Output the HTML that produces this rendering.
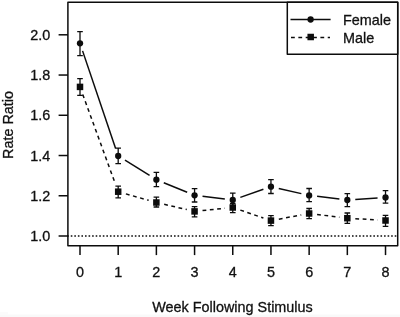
<!DOCTYPE html>
<html><head><meta charset="utf-8"><style>
html,body{margin:0;padding:0;background:#fff;}
body{width:400px;height:317px;overflow:hidden;position:relative;}
svg{position:absolute;left:0;top:0;display:block;will-change:transform;}
text{font-family:"Liberation Sans",sans-serif;font-size:14.4px;fill:#111;stroke:#111;stroke-width:0.3px;}
</style></head><body>
<svg width="400" height="317" viewBox="0 0 400 317">
<rect x="0" y="0" width="400" height="317" fill="#fff"/>
<rect x="0" y="314.5" width="400" height="2.5" fill="#f9f9f9"/><rect x="0" y="312" width="8" height="3" fill="#fbfbfb"/>
<g stroke="#0c0c0c" stroke-width="1.5" fill="none" stroke-linejoin="round">
<rect x="67.9" y="2.3" width="329.8" height="243.5"/>
<line x1="58.6" y1="236.00" x2="67.9" y2="236.00"/>
<line x1="58.6" y1="195.76" x2="67.9" y2="195.76"/>
<line x1="58.6" y1="155.52" x2="67.9" y2="155.52"/>
<line x1="58.6" y1="115.28" x2="67.9" y2="115.28"/>
<line x1="58.6" y1="75.04" x2="67.9" y2="75.04"/>
<line x1="58.6" y1="34.80" x2="67.9" y2="34.80"/>
<line x1="80.00" y1="245.8" x2="80.00" y2="255.1"/>
<line x1="118.19" y1="245.8" x2="118.19" y2="255.1"/>
<line x1="156.38" y1="245.8" x2="156.38" y2="255.1"/>
<line x1="194.57" y1="245.8" x2="194.57" y2="255.1"/>
<line x1="232.76" y1="245.8" x2="232.76" y2="255.1"/>
<line x1="270.95" y1="245.8" x2="270.95" y2="255.1"/>
<line x1="309.14" y1="245.8" x2="309.14" y2="255.1"/>
<line x1="347.33" y1="245.8" x2="347.33" y2="255.1"/>
<line x1="385.52" y1="245.8" x2="385.52" y2="255.1"/>
<line x1="67.2" y1="236" x2="397.7" y2="236" stroke-width="1.3" stroke-dasharray="1.6 1.96"/>
<g>
<line x1="82.57" y1="50.88" x2="115.62" y2="148.42"/>
<line x1="124.99" y1="160.22" x2="149.58" y2="175.48"/>
<line x1="163.79" y1="182.73" x2="187.16" y2="192.27"/>
<line x1="202.51" y1="196.28" x2="224.82" y2="199.02"/>
<line x1="240.31" y1="197.37" x2="263.40" y2="189.33"/>
<line x1="278.75" y1="188.48" x2="301.34" y2="193.62"/>
<line x1="317.08" y1="196.36" x2="339.39" y2="199.04"/>
<line x1="355.31" y1="199.46" x2="377.54" y2="197.94"/>
</g>
<g>
<line x1="82.74" y1="94.42" x2="115.45" y2="184.18" stroke-dasharray="3.8 3.55"/>
<line x1="125.89" y1="193.88" x2="148.68" y2="200.32" stroke-dasharray="3.8 3.55"/>
<line x1="164.17" y1="204.32" x2="186.78" y2="209.58" stroke-dasharray="3.8 3.55"/>
<line x1="202.53" y1="210.59" x2="224.80" y2="208.31" stroke-dasharray="3.8 3.55"/>
<line x1="240.33" y1="210.10" x2="263.38" y2="218.00" stroke-dasharray="3.8 3.55"/>
<line x1="278.82" y1="219.14" x2="301.27" y2="214.96" stroke-dasharray="3.8 3.55"/>
<line x1="317.08" y1="214.48" x2="339.39" y2="217.22" stroke-dasharray="3.8 3.55"/>
<line x1="355.32" y1="218.68" x2="377.53" y2="220.02" stroke-dasharray="3.8 3.55"/>
</g>
<g stroke-width="1.3">
<path d="M77.20 31.60H82.80M77.20 55.60H82.80M80.00 31.60V55.60"/>
<path d="M115.39 148.20H120.99M115.39 163.60H120.99M118.19 148.20V163.60"/>
<path d="M153.58 172.40H159.18M153.58 186.60H159.18M156.38 172.40V186.60"/>
<path d="M191.77 188.60H197.37M191.77 202.00H197.37M194.57 188.60V202.00"/>
<path d="M229.96 193.20H235.56M229.96 205.90H235.56M232.76 193.20V205.90"/>
<path d="M268.15 179.70H273.75M268.15 193.50H273.75M270.95 179.70V193.50"/>
<path d="M306.34 188.50H311.94M306.34 201.70H311.94M309.14 188.50V201.70"/>
<path d="M344.53 193.70H350.13M344.53 206.60H350.13M347.33 193.70V206.60"/>
<path d="M382.72 190.70H388.32M382.72 203.20H388.32M385.52 190.70V203.20"/>
<path d="M77.20 78.60H82.80M77.20 95.30H82.80M80.00 78.60V95.30"/>
<path d="M115.39 186.20H120.99M115.39 197.80H120.99M118.19 186.20V197.80"/>
<path d="M153.58 197.20H159.18M153.58 207.00H159.18M156.38 197.20V207.00"/>
<path d="M191.77 206.60H197.37M191.77 216.80H197.37M194.57 206.60V216.80"/>
<path d="M229.96 203.30H235.56M229.96 212.60H235.56M232.76 203.30V212.60"/>
<path d="M268.15 215.60H273.75M268.15 225.70H273.75M270.95 215.60V225.70"/>
<path d="M306.34 208.50H311.94M306.34 218.60H311.94M309.14 208.50V218.60"/>
<path d="M344.53 213.00H350.13M344.53 223.40H350.13M347.33 213.00V223.40"/>
<path d="M382.72 215.30H388.32M382.72 226.30H388.32M385.52 215.30V226.30"/>
</g>
<rect x="287.3" y="2.3" width="110.4" height="52.0" fill="#fff"/>
<line x1="290.5" y1="19.5" x2="330.6" y2="19.5"/>
<line x1="291" y1="37.5" x2="330" y2="37.5" stroke-dasharray="3.8 3.55"/>
</g>
<g fill="#0c0c0c">
<circle cx="80.00" cy="43.30" r="3.15"/>
<circle cx="118.19" cy="156.00" r="3.15"/>
<circle cx="156.38" cy="179.70" r="3.15"/>
<circle cx="194.57" cy="195.30" r="3.15"/>
<circle cx="232.76" cy="200.00" r="3.15"/>
<circle cx="270.95" cy="186.70" r="3.15"/>
<circle cx="309.14" cy="195.40" r="3.15"/>
<circle cx="347.33" cy="200.00" r="3.15"/>
<circle cx="385.52" cy="197.40" r="3.15"/>
<rect x="76.75" y="83.65" width="6.5" height="6.5"/>
<rect x="114.94" y="188.45" width="6.5" height="6.5"/>
<rect x="153.13" y="199.25" width="6.5" height="6.5"/>
<rect x="191.32" y="208.15" width="6.5" height="6.5"/>
<rect x="229.51" y="204.25" width="6.5" height="6.5"/>
<rect x="267.70" y="217.35" width="6.5" height="6.5"/>
<rect x="305.89" y="210.25" width="6.5" height="6.5"/>
<rect x="344.08" y="214.95" width="6.5" height="6.5"/>
<rect x="382.27" y="217.25" width="6.5" height="6.5"/>
<circle cx="310.6" cy="19.5" r="3.15"/>
<rect x="307.45" y="33.75" width="6.5" height="6.5"/>
</g>
<text x="50.3" y="241.10" text-anchor="end">1.0</text>
<text x="50.3" y="200.86" text-anchor="end">1.2</text>
<text x="50.3" y="160.62" text-anchor="end">1.4</text>
<text x="50.3" y="120.38" text-anchor="end">1.6</text>
<text x="50.3" y="80.14" text-anchor="end">1.8</text>
<text x="50.3" y="39.90" text-anchor="end">2.0</text>
<text x="80.00" y="277.3" text-anchor="middle">0</text>
<text x="118.19" y="277.3" text-anchor="middle">1</text>
<text x="156.38" y="277.3" text-anchor="middle">2</text>
<text x="194.57" y="277.3" text-anchor="middle">3</text>
<text x="232.76" y="277.3" text-anchor="middle">4</text>
<text x="270.95" y="277.3" text-anchor="middle">5</text>
<text x="309.14" y="277.3" text-anchor="middle">6</text>
<text x="347.33" y="277.3" text-anchor="middle">7</text>
<text x="385.52" y="277.3" text-anchor="middle">8</text>
<text x="343" y="25.1">Female</text>
<text x="343" y="42.8">Male</text>
<text x="232.5" y="311.6" text-anchor="middle">Week Following Stimulus</text>
<text transform="translate(12.6,125) rotate(-90)" text-anchor="middle">Rate Ratio</text>
</svg>
</body></html>
